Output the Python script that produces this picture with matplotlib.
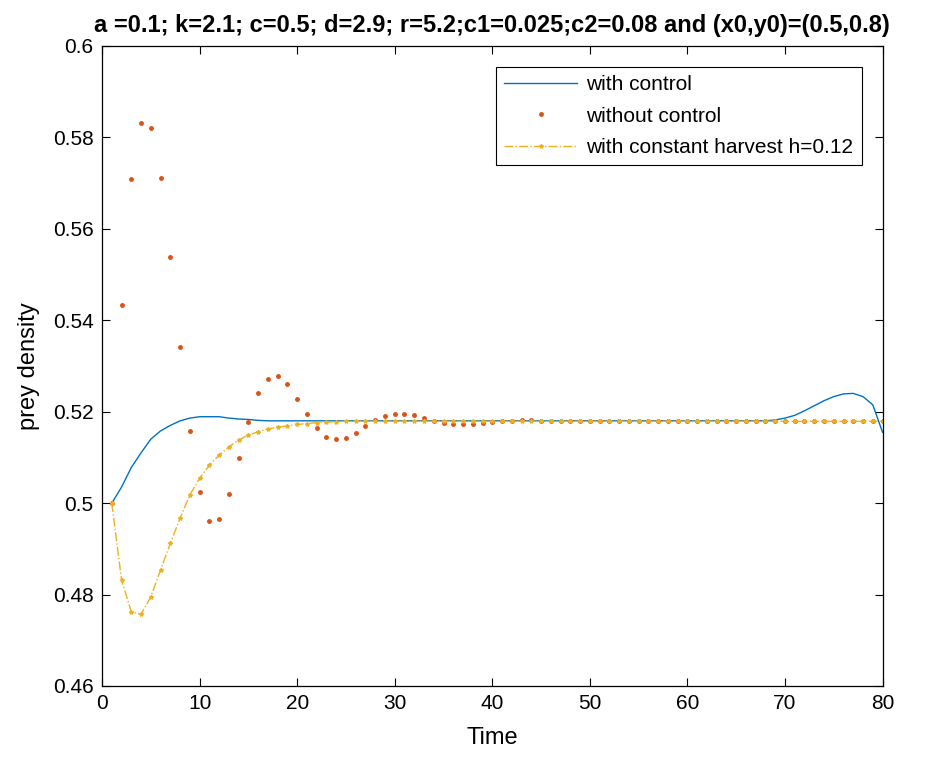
import numpy as np
import matplotlib.pyplot as plt

plt.rcParams['font.family'] = ['Liberation Sans', 'DejaVu Sans']

time = np.arange(1, 81)

# with control
with_control = [0.5000, 0.5035, 0.5078, 0.5110, 0.5140, 0.5158, 0.5170, 0.5180, 0.5186, 0.5189,
                0.5189, 0.5189, 0.5186, 0.5184, 0.5183, 0.5181, 0.5180, 0.5180, 0.5180, 0.5180,
                0.5180, 0.5180, 0.5180, 0.5180, 0.5180, 0.5180, 0.5180, 0.5180, 0.5180, 0.5180,
                0.5180, 0.5180, 0.5180, 0.5180, 0.5180, 0.5180, 0.5180, 0.5180, 0.5180, 0.5180,
                0.5180, 0.5180, 0.5180, 0.5180, 0.5180, 0.5180, 0.5180, 0.5180, 0.5180, 0.5180,
                0.5180, 0.5180, 0.5180, 0.5180, 0.5180, 0.5180, 0.5180, 0.5180, 0.5180, 0.5180,
                0.5180, 0.5180, 0.5180, 0.5180, 0.5180, 0.5180, 0.5180, 0.5180, 0.5182, 0.5186,
                0.5192, 0.5202, 0.5213, 0.5224, 0.5233, 0.5239, 0.5240, 0.5233, 0.5215, 0.5155]

# without control
without_control = [0.5000, 0.5433, 0.5710, 0.5831, 0.5821, 0.5712, 0.5538, 0.5342, 0.5158, 0.5025,
                   0.4961, 0.4965, 0.5020, 0.5099, 0.5178, 0.5240, 0.5272, 0.5277, 0.5260, 0.5228,
                   0.5195, 0.5164, 0.5145, 0.5140, 0.5142, 0.5154, 0.5168, 0.5181, 0.5191, 0.5196,
                   0.5196, 0.5192, 0.5186, 0.5180, 0.5175, 0.5172, 0.5172, 0.5172, 0.5175, 0.5177,
                   0.5179, 0.5180, 0.5181, 0.5181, 0.5180, 0.5180, 0.5180, 0.5180, 0.5180, 0.5180,
                   0.5180, 0.5180, 0.5180, 0.5180, 0.5180, 0.5180, 0.5180, 0.5180, 0.5180, 0.5180,
                   0.5180, 0.5180, 0.5180, 0.5180, 0.5180, 0.5180, 0.5180, 0.5180, 0.5180, 0.5180,
                   0.5180, 0.5180, 0.5180, 0.5180, 0.5180, 0.5180, 0.5180, 0.5180, 0.5180, 0.5180]

# with constant harvest h=0.12
harvest = [0.5000, 0.4832, 0.4762, 0.4757, 0.4795, 0.4854, 0.4912, 0.4967, 0.5018, 0.5054,
           0.5083, 0.5105, 0.5123, 0.5138, 0.5149, 0.5156, 0.5162, 0.5166, 0.5169, 0.5172,
           0.5174, 0.5176, 0.5177, 0.5178, 0.5179, 0.5179, 0.5179, 0.5179, 0.5179, 0.5179,
           0.5179, 0.5179, 0.5179, 0.5179, 0.5179, 0.5179, 0.5179, 0.5179, 0.5179, 0.5179,
           0.5179, 0.5179, 0.5179, 0.5179, 0.5179, 0.5179, 0.5179, 0.5179, 0.5179, 0.5179,
           0.5179, 0.5179, 0.5179, 0.5179, 0.5179, 0.5179, 0.5179, 0.5179, 0.5179, 0.5179,
           0.5179, 0.5179, 0.5179, 0.5179, 0.5179, 0.5179, 0.5179, 0.5179, 0.5179, 0.5179,
           0.5179, 0.5179, 0.5179, 0.5179, 0.5179, 0.5179, 0.5179, 0.5179, 0.5179, 0.5179]

xticks = [0, 10, 20, 30, 40, 50, 60, 70, 80]
yticks = [0.46, 0.48, 0.5, 0.52, 0.54, 0.56, 0.58, 0.6]
ytick_labels = ['0.46', '0.48', '0.5', '0.52', '0.54', '0.56', '0.58', '0.6']

fig = plt.figure(figsize=(9.5, 7.65), dpi=100)
ax = fig.add_axes([0.1074, 0.1033, 0.8216, 0.8366])

ax.plot(time, with_control, color='#0072BD', lw=1.0, label='with control')
ax.plot(time, without_control, '.', color='#D95319', markersize=5, label='without control')
ax.plot(time, harvest, '-.', marker='*', markersize=3, color='#EDB120', lw=1.0,
        label='with constant harvest h=0.12')

ax.set_xlim(0, 80)
ax.set_ylim(0.46, 0.6)
ax.set_xticks(xticks)
ax.set_yticks(yticks)
ax.set_yticklabels(ytick_labels)
ax.tick_params(direction='in', top=True, right=True, labelsize=15, length=6, width=0.8, pad=6)
for s in ax.spines.values():
    s.set_linewidth(0.9)

ax.set_xlabel('Time', fontsize=17, labelpad=10)
ax.set_ylabel('prey density', fontsize=17, labelpad=9)
ax.set_title('a =0.1; k=2.1; c=0.5; d=2.9; r=5.2;c1=0.025;c2=0.08 and (x0,y0)=(0.5,0.8)',
             fontsize=17, fontweight='bold', pad=10)

leg = ax.legend(loc='upper right', fontsize=15, fancybox=False, edgecolor='black',
                framealpha=1, handlelength=3.5, handletextpad=0.45, borderaxespad=1.0,
                labelspacing=0.6, borderpad=0.4)
leg.get_frame().set_linewidth(0.8)

plt.savefig('out.png', dpi=100)
